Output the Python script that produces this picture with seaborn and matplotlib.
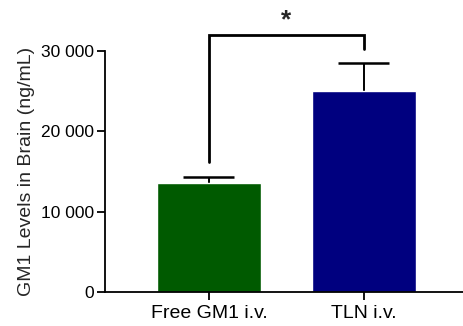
import matplotlib
matplotlib.use("Agg")
import matplotlib.pyplot as plt
from matplotlib.ticker import FuncFormatter
import numpy as np
import seaborn as sns

# mean +/- error (upper only)
groups = ["Free GM1 i.v.", "TLN i.v."]
means = [13600, 25000]
errs = [700, 3450]
colors = ["#005a00", "#00007f"]

# significance bracket
bracket_y = 32000
leg_bottoms = [16200, 30200]
star = "*"

sns.set_style("ticks")
plt.rcParams["font.family"] = ["Liberation Sans", "DejaVu Sans"]

fig = plt.figure(figsize=(4.63, 3.26), dpi=100)
ax = fig.add_axes([0.227, 0.104, 0.773, 0.74])

sns.barplot(x=groups, y=means, hue=groups, palette=colors, legend=False,
            errorbar=None, width=0.67, saturation=1, ax=ax, zorder=2)

# one-sided error bars (stem + top cap only)
xpos = np.arange(len(groups))
tops = np.array(means) + np.array(errs)
ax.vlines(xpos, means, tops, color="black", lw=1.4, zorder=1)
ax.hlines(tops, xpos - 0.165, xpos + 0.165, color="black", lw=1.8, zorder=1)

ax.set_ylim(0, 30000)
ax.set_xlim(-0.67, 1.64)
ax.set_yticks([0, 10000, 20000, 30000])
ax.yaxis.set_major_formatter(FuncFormatter(lambda v, p: f"{v:,.0f}".replace(",", " ")))
ax.set_ylabel("GM1 Levels in Brain (ng/mL)", fontsize=14, labelpad=4)
ax.tick_params(axis="both", labelsize=12.5, length=6, width=1.3, colors="black", pad=2)
ax.tick_params(axis="x", labelsize=14, pad=3)
sns.despine(ax=ax)
for s in ["left", "bottom"]:
    ax.spines[s].set_linewidth(1.3)
    ax.spines[s].set_color("black")

# bracket
ax.plot([0, 0, 1, 1], [leg_bottoms[0], bracket_y, bracket_y, leg_bottoms[1]],
        color="black", lw=2, clip_on=False, solid_joinstyle="miter")
ax.text(0.5, bracket_y + 300, star, ha="center", va="bottom", fontsize=19,
        fontweight="bold", clip_on=False)

fig.savefig("out.png", dpi=100)
